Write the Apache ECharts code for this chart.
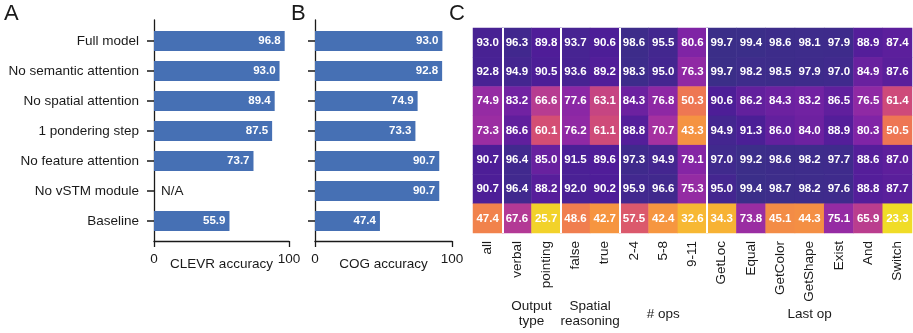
<!DOCTYPE html>
<html>
<head>
<meta charset="utf-8">
<script src="https://cdn.jsdelivr.net/npm/echarts@6/dist/echarts.min.js"></script>
<style>
  html, body { margin: 0; padding: 0; background: #fff; }
  #chart { width: 913px; height: 333px; }
</style>
</head>
<body>
<div id="chart"></div>
<script>
const models = ['Full model', 'No semantic attention', 'No spatial attention', '1 pondering step',
  'No feature attention', 'No vSTM module', 'Baseline'];
const clevrAcc = [96.8, 93.0, 89.4, 87.5, 73.7, null, 55.9];
const cogAcc = [93.0, 92.8, 74.9, 73.3, 90.7, 90.7, 47.4];
const taskCols = ['all', 'verbal', 'pointing', 'false', 'true', '2-4', '5-8', '9-11',
  'GetLoc', 'Equal', 'GetColor', 'GetShape', 'Exist', 'And', 'Switch'];
// one row per model, one value per task column
const taskAcc = [
  [93.0, 96.3, 89.8, 93.7, 90.6, 98.6, 95.5, 80.6, 99.7, 99.4, 98.6, 98.1, 97.9, 88.9, 87.4],
  [92.8, 94.9, 90.5, 93.6, 89.2, 98.3, 95.0, 76.3, 99.7, 98.2, 98.5, 97.9, 97.0, 84.9, 87.6],
  [74.9, 83.2, 66.6, 77.6, 63.1, 84.3, 76.8, 50.3, 90.6, 86.2, 84.3, 83.2, 86.5, 76.5, 61.4],
  [73.3, 86.6, 60.1, 76.2, 61.1, 88.8, 70.7, 43.3, 94.9, 91.3, 86.0, 84.0, 88.9, 80.3, 50.5],
  [90.7, 96.4, 85.0, 91.5, 89.6, 97.3, 94.9, 79.1, 97.0, 99.2, 98.6, 98.2, 97.7, 88.6, 87.0],
  [90.7, 96.4, 88.2, 92.0, 90.2, 95.9, 96.6, 75.3, 95.0, 99.4, 98.7, 98.2, 97.6, 88.8, 87.7],
  [47.4, 67.6, 25.7, 48.6, 42.7, 57.5, 42.4, 32.6, 34.3, 73.8, 45.1, 44.3, 75.1, 65.9, 23.3]
];
const groups = [
  {name: 'Output\ntype', first: 1, last: 2},
  {name: 'Spatial\nreasoning', first: 3, last: 4},
  {name: '# ops', first: 5, last: 7},
  {name: 'Last op', first: 8, last: 14}
];

const font = 'Liberation Sans, Arial, Helvetica, sans-serif';
const ink = '#1a1a1a';
const barColor = '#4670b4';

function barData(vals) {
  return vals.map(v => v === null
    ? {value: 0, label: {position: 'right', distance: 7, formatter: 'N/A', color: ink,
        fontWeight: 'normal', fontSize: 13.5}}
    : v);
}

function barSeries(vals, idx) {
  return {
    type: 'bar', xAxisIndex: idx, yAxisIndex: idx,
    data: barData(vals), barWidth: 20,
    itemStyle: {color: barColor},
    label: {
      show: true, position: 'insideRight', distance: 4,
      color: '#fff', fontWeight: 'bold', fontSize: 11.5, fontFamily: font,
      formatter: p => p.value === 0 ? 'N/A' : p.value.toFixed(1)
    },
    silent: true
  };
}

function frameX(gridIndex, name) {
  return {
    type: 'value', gridIndex: gridIndex, min: 0, max: 100, interval: 100,
    axisLine: {show: true, onZero: false, lineStyle: {color: ink, width: 1.3}},
    axisTick: {show: true, length: 6, lineStyle: {color: ink, width: 1.3}},
    axisLabel: {color: ink, fontSize: 13.5, fontFamily: font, margin: 11},
    splitLine: {show: false},
    name: name, nameLocation: 'middle', nameGap: 16, nameMoveOverlap: false,
    nameTextStyle: {color: ink, fontSize: 13.5, fontFamily: font, verticalAlign: 'top'}
  };
}

function frameY(gridIndex) {
  return {
    type: 'value', gridIndex: gridIndex, min: 0, max: 1,
    axisLine: {show: true, onZero: false, lineStyle: {color: ink, width: 1.3}},
    axisTick: {show: false}, axisLabel: {show: false}, splitLine: {show: false}
  };
}

function barY(gridIndex, showLabels) {
  return {
    type: 'category', gridIndex: gridIndex, data: models, inverse: true,
    axisLine: {show: false},
    axisTick: {show: true, alignWithLabel: true, length: 7, lineStyle: {color: ink, width: 1.5}},
    axisLabel: {show: showLabels, color: ink, fontSize: 13.5, fontFamily: font, margin: 15},
    splitLine: {show: false}
  };
}

const heatData = [];
taskAcc.forEach((row, r) => row.forEach((v, c) => heatData.push([c, r, v])));
const separators = groups.map(g => g.first - 0.5);

const chart = echarts.init(document.getElementById('chart'));
chart.setOption({
  animation: false,
  textStyle: {fontFamily: font},
  grid: [
    {left: 154, top: 26, width: 135, height: 210},
    {left: 154, top: 20, width: 135, height: 221},
    {left: 315, top: 26, width: 137, height: 210},
    {left: 315, top: 20, width: 137, height: 221},
    {left: 473, top: 28, width: 439, height: 205}
  ],
  xAxis: [
    {type: 'value', gridIndex: 0, min: 0, max: 100, show: false},
    frameX(1, 'CLEVR accuracy'),
    {type: 'value', gridIndex: 2, min: 0, max: 100, show: false},
    frameX(3, 'COG accuracy'),
    {
      type: 'category', gridIndex: 4, data: taskCols,
      axisLine: {show: false}, axisTick: {show: false},
      axisLabel: {rotate: 90, color: ink, fontSize: 13.5, fontFamily: font, margin: 8},
      splitLine: {show: false}
    },
    {type: 'value', gridIndex: 4, min: -0.5, max: taskCols.length - 0.5, show: false}
  ],
  yAxis: [
    barY(0, true),
    frameY(1),
    barY(2, false),
    frameY(3),
    {type: 'category', gridIndex: 4, data: models, inverse: true, show: false},
    {type: 'value', gridIndex: 4, min: 0, max: 1, show: false}
  ],
  visualMap: {
    show: false, type: 'continuous', seriesIndex: 2, min: 20, max: 100,
    inRange: {color: ['#ecea22', '#f7c030', '#f8a03a', '#ef7852', '#d44e74',
      '#a832a0', '#8224a6', '#4e1d98', '#3a2f88']}
  },
  series: [
    barSeries(clevrAcc, 0),
    barSeries(cogAcc, 2),
    {
      type: 'heatmap', xAxisIndex: 4, yAxisIndex: 4, data: heatData,
      label: {
        show: true, color: '#fff', fontWeight: 'bold', fontSize: 11.5, fontFamily: font,
        formatter: p => p.value[2].toFixed(1)
      },
      emphasis: {disabled: true}, silent: true
    },
    {
      type: 'line', xAxisIndex: 5, yAxisIndex: 5, data: [], z: 10,
      markLine: {
        silent: true, symbol: 'none', label: {show: false},
        lineStyle: {color: '#fff', width: 2, type: 'solid'},
        data: separators.map(x => ({xAxis: x}))
      }
    }
  ]
});

// panel letters and column group labels (centred over their columns)
const graphics = [
  {type: 'text', left: 4, top: 3, style: {text: 'A', fontSize: 22, fill: ink, fontFamily: font}},
  {type: 'text', left: 291, top: 3, style: {text: 'B', fontSize: 22, fill: ink, fontFamily: font}},
  {type: 'text', left: 449, top: 3, style: {text: 'C', fontSize: 22, fill: ink, fontFamily: font}}
];
groups.forEach(g => {
  const x = chart.convertToPixel({xAxisIndex: 5}, (g.first + g.last) / 2);
  graphics.push({
    type: 'text', x: x, y: 314,
    style: {text: g.name, fontSize: 13.5, fill: ink, fontFamily: font,
      align: 'center', verticalAlign: 'middle', lineHeight: 15}
  });
});
chart.setOption({graphic: graphics});
</script>
</body>
</html>
